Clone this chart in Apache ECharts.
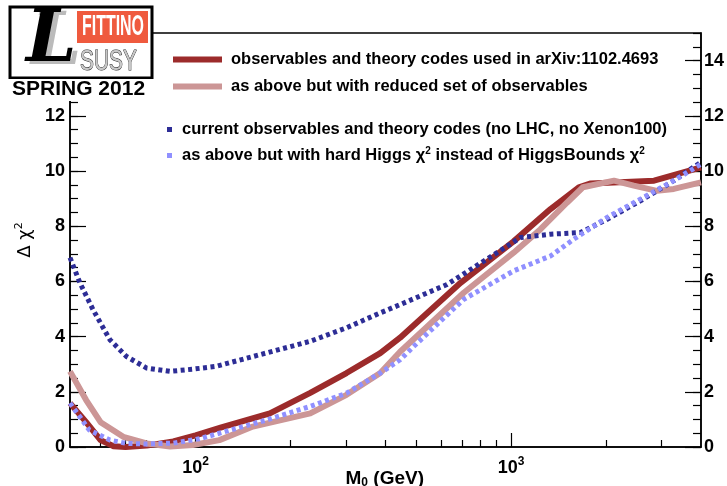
<!DOCTYPE html>
<html>
<head>
<meta charset="utf-8">
<script src="https://cdn.jsdelivr.net/npm/echarts@6/dist/echarts.min.js"></script>
<style>
html, body { margin: 0; padding: 0; background: #fff; }
#container { width: 727px; height: 486px; }
</style>
</head>
<body>
<div id="container"></div>
<script>
// x axis (M0, GeV) tick positions
var massTicksMajor = [100, 1000];
var massTicksMinor = [50, 60, 70, 80, 90, 200, 300, 400, 500, 600, 700, 800, 900, 2000, 3000];

// observables and theory codes used in arXiv:1102.4693
var fullMass = [40, 45, 50, 55, 60, 70, 85, 100, 120, 172, 231, 301, 385, 445, 692, 1019, 1334, 1640, 1790, 2840, 4000];
var fullChi2 = [1.59, 0.9, 0.25, 0.03, 0.0, 0.05, 0.2, 0.42, 0.7, 1.22, 1.96, 2.68, 3.4, 3.96, 5.95, 7.45, 8.62, 9.41, 9.55, 9.65, 10.13];

// as above but with reduced set of observables
var reducedMass = [40, 45, 50, 59, 70, 83, 98, 119, 152, 231, 301, 385, 445, 708, 1019, 1240, 1506, 1690, 2120, 2450, 2900, 3280, 4000];
var reducedChi2 = [2.74, 1.7, 0.9, 0.37, 0.13, 0.02, 0.07, 0.25, 0.74, 1.22, 1.89, 2.68, 3.45, 5.59, 7.04, 7.89, 8.86, 9.41, 9.65, 9.47, 9.28, 9.35, 9.59];

// current observables (no LHC, no Xenon100)
var currentMass = [40, 43, 47.3, 53.5, 60.4, 70, 83, 98, 116, 168, 231, 301, 385, 445, 627, 903, 1072, 1334, 1660, 2017, 2570, 3280, 4000];
var currentChi2 = [6.86, 5.95, 4.98, 3.89, 3.28, 2.86, 2.74, 2.82, 2.92, 3.41, 3.83, 4.32, 4.86, 5.16, 5.89, 7.04, 7.59, 7.71, 7.77, 8.25, 8.92, 9.65, 10.32];

// hard Higgs chi2 instead of HiggsBounds chi2
var hardHiggsMass = [40, 46, 53.5, 60.4, 70, 85, 103, 168, 231, 301, 385, 445, 492, 708, 1019, 1334, 1581, 2017, 2570, 3280, 4000];
var hardHiggsChi2 = [1.59, 0.62, 0.25, 0.13, 0.11, 0.14, 0.3, 0.98, 1.47, 1.95, 2.68, 3.16, 3.65, 5.35, 6.38, 6.92, 7.53, 8.32, 8.98, 9.65, 10.25];

var seriesNames = [
  'observables and theory codes used in arXiv:1102.4693',
  'as above but with reduced set of observables',
  'current observables and theory codes (no LHC, no Xenon100)',
  'as above but with hard Higgs χ2 instead of HiggsBounds χ2'
];

function pairs(xs, ys) {
  return xs.map(function (x, i) { return [x, ys[i]]; });
}

var dom = document.getElementById('container');
var myChart = echarts.init(dom, null, { renderer: 'canvas' });

var font = 'Liberation Sans';
function legendText(padLeft) {
  return {
    fontFamily: font, fontWeight: 'bold', fontSize: 16.5, color: '#000',
    padding: [0, 0, 0, padLeft],
    rich: { sup: { fontFamily: font, fontWeight: 'bold', fontSize: 10, padding: [0, 0, 9, 0] } }
  };
}
function legendFmt(name) { return name.replace(/χ2/g, 'χ{sup|2}'); }

var yLabel = { fontFamily: font, fontWeight: 'bold', fontSize: 18, color: '#000', showMaxLabel: false };

var option = {
  animation: false,
  grid: { left: 70, right: 26, top: 33, bottom: 39, show: true, borderColor: '#000', borderWidth: 1.5 },
  legend: [
    {
      orient: 'vertical', left: 168, top: 46, itemWidth: 49, itemHeight: 6, itemGap: 10,
      icon: 'rect', data: [seriesNames[0], seriesNames[1]],
      textStyle: legendText(4), formatter: legendFmt, selectedMode: false
    },
    {
      orient: 'vertical', left: 162, top: 116, itemWidth: 5, itemHeight: 5, itemGap: 8,
      icon: 'rect', data: [seriesNames[2], seriesNames[3]],
      textStyle: legendText(5), formatter: legendFmt, selectedMode: false
    }
  ],
  xAxis: [
    {
      type: 'log', logBase: 10, min: 40, max: 4000,
      axisLine: { show: true, lineStyle: { color: '#000', width: 1.5 } },
      axisTick: { inside: true, length: 14, customValues: massTicksMajor, lineStyle: { color: '#000', width: 1.2 } },
      splitLine: { show: false },
      axisLabel: {
        customValues: massTicksMajor, margin: 9,
        formatter: function (v) { return '10{sup|' + Math.round(Math.log10(v)) + '}'; },
        fontFamily: font, fontWeight: 'bold', fontSize: 18, color: '#000',
        rich: { sup: { fontFamily: font, fontWeight: 'bold', fontSize: 12, padding: [0, 0, 12, 0] } }
      }
    },
    {
      type: 'log', logBase: 10, min: 40, max: 4000, position: 'bottom',
      axisLine: { show: false },
      axisTick: { inside: true, length: 7, customValues: massTicksMinor, lineStyle: { color: '#000', width: 1.2 } },
      splitLine: { show: false },
      axisLabel: { show: false }
    }
  ],
  yAxis: [
    {
      type: 'value', min: 0, max: 15, interval: 2, position: 'left',
      name: 'Δ χ{sup|2}', nameLocation: 'middle', nameGap: 28, nameRotate: 90,
      nameTextStyle: { fontFamily: 'DejaVu Sans', fontSize: 18, color: '#000',
        rich: { sup: { fontFamily: 'DejaVu Sans', fontSize: 11, padding: [0, 0, 11, 0] } } },
      axisLine: { show: true, lineStyle: { color: '#000', width: 1.5 } },
      axisTick: { inside: true, length: 16, lineStyle: { color: '#000', width: 1.2 } },
      splitLine: { show: false },
      axisLabel: Object.assign({ margin: 5 }, yLabel)
    },
    {
      type: 'value', min: 0, max: 15, interval: 0.5, position: 'left',
      axisLine: { show: false },
      axisTick: { inside: true, length: 8, lineStyle: { color: '#000', width: 1.2 } },
      splitLine: { show: false },
      axisLabel: { show: false }
    },
    {
      type: 'value', min: 0, max: 15, interval: 2, position: 'right',
      axisLine: { show: true, lineStyle: { color: '#000', width: 1.5 } },
      axisTick: { inside: true, length: 16, lineStyle: { color: '#000', width: 1.2 } },
      splitLine: { show: false },
      axisLabel: Object.assign({ margin: 3 }, yLabel)
    },
    {
      type: 'value', min: 0, max: 15, interval: 0.5, position: 'right',
      axisLine: { show: false },
      axisTick: { inside: true, length: 8, lineStyle: { color: '#000', width: 1.2 } },
      splitLine: { show: false },
      axisLabel: { show: false }
    }
  ],
  series: [
    {
      name: seriesNames[0], type: 'line', data: pairs(fullMass, fullChi2),
      showSymbol: false, symbol: 'none', color: '#9c2b2b',
      lineStyle: { color: '#9c2b2b', width: 6, join: 'round' }
    },
    {
      name: seriesNames[1], type: 'line', data: pairs(reducedMass, reducedChi2),
      showSymbol: false, symbol: 'none', color: '#cc9696',
      lineStyle: { color: '#cc9696', width: 6, join: 'round' }
    },
    {
      name: seriesNames[2], type: 'line', data: pairs(currentMass, currentChi2),
      showSymbol: false, symbol: 'none', color: '#2d2d96',
      lineStyle: { color: '#2d2d96', width: 5, type: [4, 3.5] }
    },
    {
      name: seriesNames[3], type: 'line', data: pairs(hardHiggsMass, hardHiggsChi2),
      showSymbol: false, symbol: 'none', color: '#9090ff',
      lineStyle: { color: '#9090ff', width: 5, type: [4, 3.5] }
    }
  ],
  graphic: [
    {
      type: 'text', right: 303, top: 469,
      style: {
        text: 'M{sub|0} (GeV)', fill: '#000',
        font: 'bold 19px "Liberation Sans"',
        rich: { sub: { font: 'bold 12px "Liberation Sans"', padding: [9, 0, 0, 0] } }
      }
    },
    // logo
    { type: 'rect', shape: { x: 10, y: 7, width: 142, height: 71 }, style: { fill: '#fff', stroke: '#000', lineWidth: 3 }, z: 100 },
    { type: 'rect', shape: { x: 77, y: 11, width: 71, height: 32 }, style: { fill: '#ef5a3e' }, z: 101 },
    { type: 'text', x: 82, y: 27, scaleX: 0.55, z: 102,
      style: { text: 'FITTINO', fill: '#fff', font: 'bold 29px "Liberation Sans"', verticalAlign: 'middle' } },
    { type: 'text', x: 31, y: 45, z: 101,
      style: { text: 'L', fill: '#bbb', font: 'italic bold 72px "DejaVu Serif"', verticalAlign: 'middle' } },
    { type: 'text', x: 26, y: 42, z: 102,
      style: { text: 'L', fill: '#000', font: 'italic bold 72px "DejaVu Serif"', verticalAlign: 'middle' } },
    { type: 'text', x: 80, y: 62, scaleX: 0.72, z: 102,
      style: { text: 'SUSY', fill: '#c8c8c8', stroke: '#222', lineWidth: 1, font: '29px "Liberation Sans"', verticalAlign: 'middle' } },
    { type: 'rect', shape: { x: 0, y: 79, width: 160, height: 22 }, style: { fill: '#fff' }, z: 100 },
    { type: 'text', x: 12, y: 89, z: 102,
      style: { text: 'SPRING 2012', fill: '#000', font: 'bold 21px "Liberation Sans"', verticalAlign: 'middle' } }
  ]
};

if (option && typeof option === 'object') {
  myChart.setOption(option);
}

window.addEventListener('resize', myChart.resize);
</script>
</body>
</html>
